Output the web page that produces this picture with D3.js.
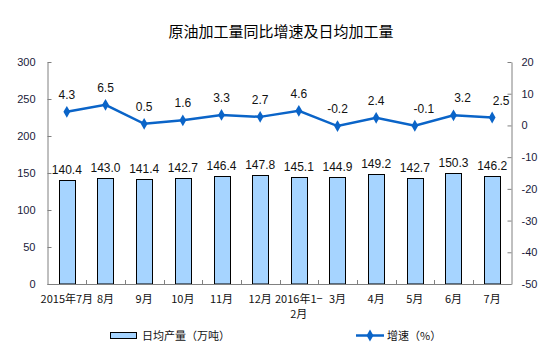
<!DOCTYPE html>
<html lang="zh">
<head>
<meta charset="utf-8">
<title>原油加工量同比增速及日均加工量</title>
<script src="https://cdn.jsdelivr.net/npm/d3@7/dist/d3.min.js"></script>
<style>
  body { margin: 0; background: #fff; }
  text { font-family: "Liberation Sans", Arial, sans-serif; }
  .cjk { font-family: "Noto Sans CJK SC", sans-serif; }
</style>
</head>
<body>
<script>
// data
var months = ["2015年7月", "8月", "9月", "10月", "11月", "12月", "2016年1−|2月", "3月", "4月", "5月", "6月", "7月"];
var dailyOutput = [140.4, 143.0, 141.4, 142.7, 146.4, 147.8, 145.1, 144.9, 149.2, 142.7, 150.3, 146.2];
var growth = [4.3, 6.5, 0.5, 1.6, 3.3, 2.7, 4.6, -0.2, 2.4, -0.1, 3.2, 2.5];
var leftTicks = [0, 50, 100, 150, 200, 250, 300];
var rightTicks = [-50, -40, -30, -20, -10, 0, 10, 20];

var w = 554, h = 353;
var plotL = 47.5, plotR = 511.5, plotT = 62, plotB = 284;
// the last few growth labels sit a bit right of their points in the original
var glabShift = function (i) { return (i === 9 || i === 10 || i === 11) ? 9 : 0; };

var svg = d3.select("body").append("svg").attr("width", w).attr("height", h);

var x = d3.scaleBand().domain(months).range([plotL, plotR]);
var yL = d3.scaleLinear().domain([0, 300]).range([plotB, plotT]);
var yR = d3.scaleLinear().domain([-50, 20]).range([plotB, plotT]);

// title
svg.append("text").attr("class", "cjk")
  .attr("x", 281).attr("y", 37).attr("text-anchor", "middle")
  .style("font-size", "15px").text("原油加工量同比增速及日均加工量");

// left axis
var axL = svg.append("g").attr("transform", "translate(" + plotL + ",0)")
  .call(d3.axisLeft(yL).tickValues(leftTicks).tickFormat(function (d) { return String(d); })
    .tickSizeInner(-4).tickSizeOuter(0).tickPadding(12));
// right axis
var axR = svg.append("g").attr("transform", "translate(" + plotR + ",0)")
  .call(d3.axisRight(yR).tickValues(rightTicks).tickFormat(function (d) { return String(d); })
    .tickSizeInner(-4).tickSizeOuter(0).tickPadding(10));
[axL, axR].forEach(function (a) {
  a.select(".domain").attr("stroke", "#808080");
  a.selectAll(".tick line").attr("stroke", "#808080");
  a.selectAll(".tick text").style("font-size", "11px").attr("fill", "#1a1a3a")
    .style("font-family", "'Liberation Sans', Arial, sans-serif");
});

// bars
svg.selectAll("rect.bar").data(dailyOutput).enter().append("rect")
  .attr("class", "bar")
  .attr("x", function (d, i) { return Math.round(x(months[i]) + x.bandwidth() / 2 - 8) + 0.5; })
  .attr("y", function (d) { return Math.round(yL(d)) + 0.5; })
  .attr("width", 16)
  .attr("height", function (d) { return plotB - Math.round(yL(d)) - 0.5; })
  .attr("fill", "#a6d4ff").attr("stroke", "#000").attr("stroke-width", 1);

// bar labels
svg.selectAll("text.blab").data(dailyOutput).enter().append("text")
  .attr("class", "blab")
  .attr("x", function (d, i) { return x(months[i]) + x.bandwidth() / 2; })
  .attr("y", function (d) { return yL(d) - 6; })
  .attr("text-anchor", "middle").style("font-size", "12px").attr("fill", "#111")
  .text(function (d) { return d.toFixed(1); });

// bottom axis with inward category ticks
svg.append("line").attr("x1", plotL).attr("x2", plotR).attr("y1", plotB + 0.5).attr("y2", plotB + 0.5)
  .attr("stroke", "#808080");
months.forEach(function (m, i) {
  if (i > 0) {
    var bx = Math.round(x(m)) + 0.5;
    svg.append("line").attr("x1", bx).attr("x2", bx).attr("y1", plotB).attr("y2", plotB - 4)
      .attr("stroke", "#808080");
  }
});
var xl = svg.selectAll("text.xlab").data(months).enter().append("text")
  .attr("class", "xlab cjk")
  .attr("x", function (d) { return x(d) + x.bandwidth() / 2; })
  .attr("y", 303).attr("text-anchor", "middle").style("font-size", "11px").attr("fill", "#111");
xl.each(function (d) {
  var parts = d.split("|");
  var t = d3.select(this);
  parts.forEach(function (p, k) {
    t.append("tspan").attr("x", t.attr("x")).attr("dy", k === 0 ? 0 : 15).text(p);
  });
});

// growth line
var line = d3.line()
  .x(function (d, i) { return x(months[i]) + x.bandwidth() / 2; })
  .y(function (d) { return yR(d); });
svg.append("path").datum(growth).attr("d", line)
  .attr("fill", "none").attr("stroke", "#0a64c8").attr("stroke-width", 2.5);
svg.selectAll("path.mk").data(growth).enter().append("path")
  .attr("class", "mk")
  .attr("transform", function (d, i) {
    return "translate(" + (x(months[i]) + x.bandwidth() / 2) + "," + yR(d) + ")";
  })
  .attr("d", d3.symbol().type(d3.symbolDiamond).size(40))
  .attr("fill", "#0a64c8");
svg.selectAll("text.glab").data(growth).enter().append("text")
  .attr("class", "glab")
  .attr("x", function (d, i) { return x(months[i]) + x.bandwidth() / 2 + glabShift(i); })
  .attr("y", function (d) { return yR(d) - 13; })
  .attr("text-anchor", "middle").style("font-size", "12px").attr("fill", "#111")
  .text(function (d) { return d.toFixed(1); });

// legend
svg.append("rect").attr("x", 110.5).attr("y", 332.5).attr("width", 26).attr("height", 6)
  .attr("fill", "#a6d4ff").attr("stroke", "#000");
svg.append("text").attr("class", "cjk").attr("x", 142).attr("y", 339.5)
  .style("font-size", "11px").attr("fill", "#111").text("日均产量（万吨）");
svg.append("line").attr("x1", 356).attr("x2", 384).attr("y1", 335.5).attr("y2", 335.5)
  .attr("stroke", "#0a64c8").attr("stroke-width", 2.5);
svg.append("path").attr("transform", "translate(370,335.5)")
  .attr("d", d3.symbol().type(d3.symbolDiamond).size(40)).attr("fill", "#0a64c8");
svg.append("text").attr("class", "cjk").attr("x", 387).attr("y", 339.5)
  .style("font-size", "11px").attr("fill", "#111").text("增速（%）");
</script>
</body>
</html>
